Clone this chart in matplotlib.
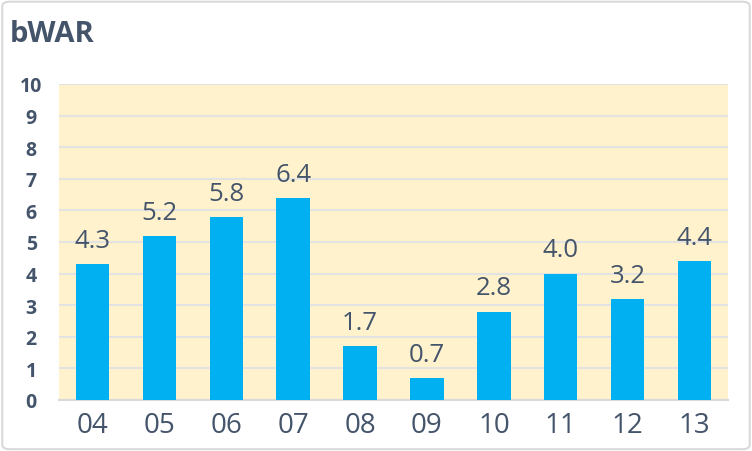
import matplotlib
matplotlib.use('Agg')
import matplotlib.pyplot as plt
from matplotlib.patches import FancyBboxPatch

years = ['04', '05', '06', '07', '08', '09', '10', '11', '12', '13']
bwar = [4.3, 5.2, 5.8, 6.4, 1.7, 0.7, 2.8, 4.0, 3.2, 4.4]

txt = '#44546A'
plt.rcParams['font.family'] = ['Open Sans', 'DejaVu Sans']

fig = plt.figure(figsize=(7.52, 4.52), dpi=100)
border = FancyBboxPatch((0.003, 0.004), 0.994, 0.99, boxstyle='round,pad=0,rounding_size=0.01',
                        transform=fig.transFigure, facecolor='white',
                        edgecolor='#D9D9D9', linewidth=1.5, zorder=-5)
fig.patches.append(border)

ax = fig.add_axes([59 / 752, 1 - 401 / 452, (728 - 59) / 752, (401 - 85) / 452])
ax.set_zorder(2)
ax.set_facecolor('#FFF2CC')

x = range(len(years))
ax.bar(x, bwar, width=0.5, color='#00B0F0', zorder=3)
for i, v in zip(x, bwar):
    ax.annotate(f'{v:.1f}', (i, v), xytext=(0, 8), textcoords='offset points',
                ha='center', va='bottom', fontsize=18.5, color=txt)

ax.set_xlim(-0.5, len(years) - 0.5)
ax.set_ylim(0, 10)
ax.set_yticks(range(0, 11))
ax.set_xticks(list(x))
ax.set_xticklabels(years)
ax.grid(axis='y', color='#E3E3E3', linewidth=1.5, zorder=1)
for s in ['left', 'right', 'top']:
    ax.spines[s].set_visible(False)
ax.spines['bottom'].set_color('#D9D9D9')
ax.spines['bottom'].set_linewidth(1.5)
ax.tick_params(length=0)
ax.tick_params(axis='x', labelsize=20, labelcolor=txt, pad=8)
ax.tick_params(axis='y', labelsize=14, labelcolor=txt, pad=20)
for lab in ax.get_yticklabels():
    lab.set_fontweight('bold')
    lab.set_horizontalalignment('center')

fig.text(10 / 752, 1 - 34 / 452, 'bWAR', fontsize=21, fontweight='bold', color=txt, va='center')

fig.savefig('out.png', dpi=100)
